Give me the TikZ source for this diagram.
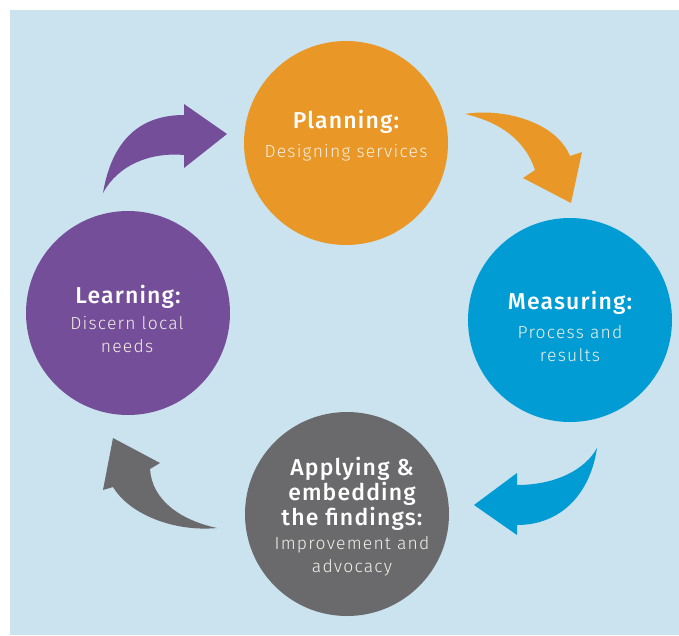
\documentclass[tikz,border=0pt]{standalone}
\usepackage{fontspec}
\setmainfont{Fira Sans}
\newfontfamily\ttlfont{Fira Sans Medium}[LetterSpace=5]
\newfontfamily\subfont{Fira Sans Light}[LetterSpace=7]
\definecolor{bgblue}{HTML}{CAE3EF}
\definecolor{planc}{HTML}{E99726}
\definecolor{measc}{HTML}{009CD3}
\definecolor{applyc}{HTML}{6A6A6D}
\definecolor{learnc}{HTML}{744E99}
\definecolor{subtext}{HTML}{F3F0E6}
\begin{document}
\begin{tikzpicture}[x=1pt,y=-1pt,
  stage/.style={circle, minimum size=204pt, inner sep=0pt},
  ttl/.style={anchor=base, inner sep=0pt, text=white,
    font=\ttlfont\fontsize{23}{25}\selectfont},
  sub/.style={anchor=base, inner sep=0pt, text=subtext,
    font=\subfont\fontsize{17.5}{22}\selectfont}]
\useasboundingbox (0,0) rectangle (679,635);
\fill[bgblue] (10,10) rectangle (679,635);

% stage circles
\node[stage, fill=planc]  (plan)  at (346,143) {};
\node[stage, fill=measc]  (meas)  at (570,320) {};
\node[stage, fill=applyc] (apply) at (347,514) {};
\node[stage, fill=learnc] (learn) at (128,313) {};

% labels
\node[ttl] (planT)  at (346,128) {Planning:};
\node[sub] (planS)  at (346,157) {Designing services};

\node[ttl] (measT)  at (570,309) {Measuring:};
\node[sub] (measS1) at (570,338) {Process and};
\node[sub] (measS2) at (570,361) {results};

\node[ttl] (applyT1) at (352,475) {Applying \&};
\node[ttl] (applyT2) at (352,500) {embedding};
\node[ttl] (applyT3) at (352,525) {the findings:};
\node[sub] (applyS1) at (352,549) {Improvement and};
\node[sub] (applyS2) at (352,572) {advocacy};

\node[ttl] (learnT)  at (128,303) {Learning:};
\node[sub] (learnS1) at (127,329) {Discern local};
\node[sub] (learnS2) at (127,352) {needs};

% curved block arrows between the stages
\fill[learnc] (103,193) .. controls (112,140) and (140,115) .. (184,115)
  -- (184,104) -- (227,134) -- (184,168) -- (184,155)
  .. controls (150,152) and (118,165) .. (103,193) -- cycle;
\fill[planc] (465,114) .. controls (500,108) and (555,120) .. (570,156)
  -- (582,152) -- (571,203) -- (523,178) -- (535,170)
  .. controls (525,140) and (500,122) .. (465,114) -- cycle;
\fill[measc] (597,448) .. controls (590,495) and (560,525) .. (517,525)
  -- (517,535) -- (474,505) -- (517,473) -- (517,485)
  .. controls (555,485) and (585,470) .. (597,448) -- cycle;
\fill[applyc] (217,528) .. controls (175,532) and (130,515) .. (113,487)
  -- (103,490) -- (113,438) -- (160,463) -- (150,469)
  .. controls (152,500) and (180,520) .. (217,528) -- cycle;
\end{tikzpicture}
\end{document}
